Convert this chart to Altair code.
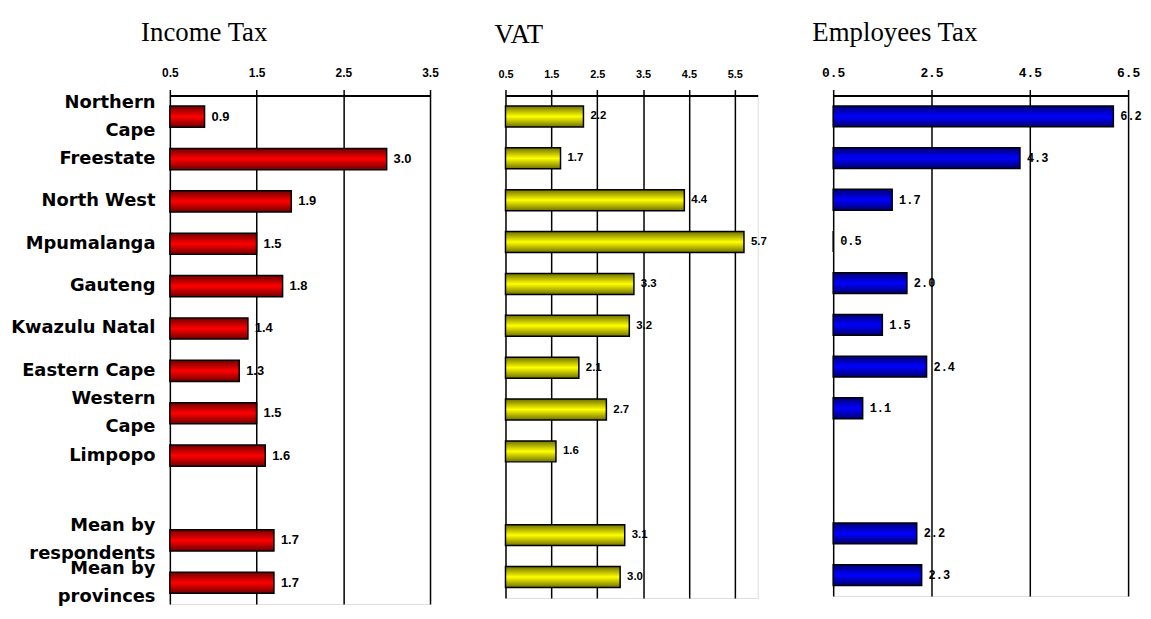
import altair as alt
import pandas as pd

categories = ["Northern Cape", "Freestate", "North West", "Mpumalanga", "Gauteng",
              "Kwazulu Natal", "Eastern Cape", "Western Cape", "Limpopo", " ",
              "Mean by respondents", "Mean by provinces"]
income_tax = [0.9, 3.0, 1.9, 1.5, 1.8, 1.4, 1.3, 1.5, 1.6, None, 1.7, 1.7]
vat = [2.2, 1.7, 4.4, 5.7, 3.3, 3.2, 2.1, 2.7, 1.6, None, 3.1, 3.0]
employees_tax = [6.2, 4.3, 1.7, 0.5, 2.0, 1.5, 2.4, 1.1, None, None, 2.2, 2.3]

income_ticks = [0.5, 1.5, 2.5, 3.5]
vat_ticks = [0.5, 1.5, 2.5, 3.5, 4.5, 5.5]
emp_ticks = [0.5, 2.5, 4.5, 6.5]

multi_line = {
    "Northern Cape": ["Northern", "Cape"],
    "Western Cape": ["Western", "Cape"],
    "Mean by respondents": ["Mean by", "respondents"],
    "Mean by provinces": ["Mean by", "provinces"],
}
label_expr = ""
for k, v in multi_line.items():
    label_expr += "datum.label == '%s' ? ['%s', '%s'] : " % (k, v[0], v[1])
label_expr += "datum.label"
multi_test = " || ".join("datum.value == '%s'" % k for k in multi_line)

LINE_H = 28


def gradient(dark, bright):
    return alt.Gradient(
        gradient="linear", x1=0, x2=0, y1=0, y2=1,
        stops=[alt.GradientStop(color=dark, offset=0),
               alt.GradientStop(color=bright, offset=0.5),
               alt.GradientStop(color=dark, offset=1)])


def panel(values, title, dx, domain, ticks, width, height, dark, bright,
          label_font, label_size, value_font, value_size, show_y):
    df = pd.DataFrame({"cat": categories, "val": values})
    df = df.dropna()
    yscale = alt.Scale(domain=categories, paddingInner=0.5, paddingOuter=0.25)
    if show_y:
        yaxis = alt.Axis(title=None, ticks=False, domain=False, labelExpr=label_expr,
                         labelFont="DejaVu Sans", labelFontWeight="bold",
                         labelFontSize=18, labelColor="black", labelLineHeight=LINE_H,
                         labelOffset=alt.condition(multi_test, alt.value(-LINE_H / 2),
                                                   alt.value(0)),
                         labelPadding=15, labelLimit=400, grid=False)
    else:
        yaxis = None
    xscale = alt.Scale(domain=domain, nice=False, zero=False)
    xaxis = alt.Axis(title=None, orient="top", values=ticks, format=".1f",
                     grid=True, gridColor="black", gridWidth=1.5, gridOpacity=1,
                     domainColor="black", domainWidth=2, tickColor="black",
                     tickWidth=1.5, tickSize=6, labelFont=label_font,
                     labelFontWeight="bold", labelFontSize=label_size,
                     labelColor="black", labelPadding=10, labelFlush=False)
    base = alt.Chart(df)
    bars = base.mark_bar(color=gradient(dark, bright), stroke="black",
                         strokeWidth=1.5).encode(
        x=alt.X("val:Q", scale=xscale, axis=xaxis),
        x2=alt.datum(domain[0]),
        y=alt.Y("cat:N", scale=yscale, axis=yaxis, sort=categories),
    )
    labels = base.mark_text(align="left", baseline="middle", dx=7,
                            font=value_font, fontWeight="bold",
                            fontSize=value_size, color="black").encode(
        x=alt.X("val:Q", scale=xscale),
        y=alt.Y("cat:N", scale=yscale, sort=categories),
        text=alt.Text("val:Q", format=".1f"),
    )
    return (bars + labels).properties(
        width=width, height=height,
        title=alt.TitleParams(title, anchor="start", frame="group", dx=dx,
                              font="Liberation Serif", fontSize=27,
                              fontWeight="normal", color="black", offset=20),
    )


p1 = panel(income_tax, "Income Tax", -29, [0.5, 3.5], income_ticks, 262, 512,
           "#700000", "#ff0000", "Liberation Sans", 12, "Liberation Sans", 13, True)
p2 = panel(vat, "VAT", -11, [0.5, 6.0], vat_ticks, 254, 506,
           "#707000", "#ffff00", "Liberation Sans", 11, "Liberation Sans", 11.5, False)
p3 = panel(employees_tax, "Employees Tax", -21, [0.5, 6.5], emp_ticks, 297, 504,
           "#000070", "#0000ff", "Liberation Mono", 13, "Liberation Mono", 12, False)

chart = alt.hconcat(p1, p2, p3, spacing=76, bounds="flush").properties(
    padding={"left": 2, "top": 8, "right": 0, "bottom": 0}
).configure_view(stroke="black", strokeWidth=2).configure(background="white")

chart.save("out.html", embed_options={"renderer": "svg", "actions": False})
